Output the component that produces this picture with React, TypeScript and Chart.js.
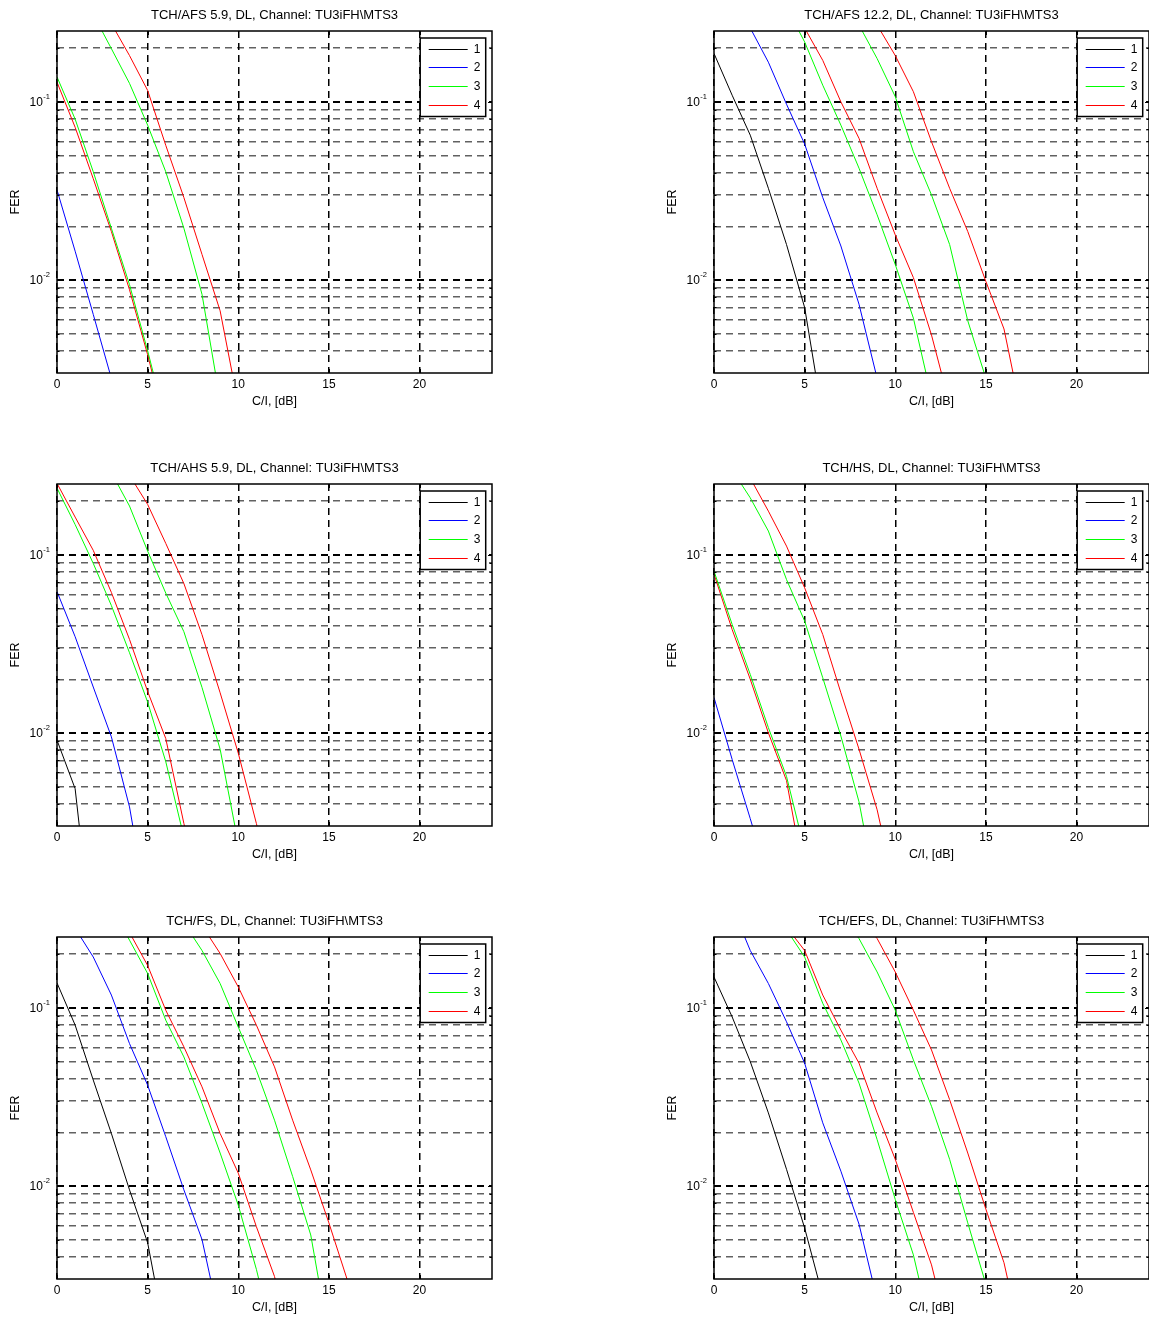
import React, { useEffect, useRef } from 'react';
import { Chart, registerables } from 'chart.js';

Chart.register(...registerables);

// ---------- data ----------
const CI_DB = [0, 1, 2, 3, 4, 5, 6, 7, 8, 9, 10, 11, 12, 13, 14, 15, 16, 17, 18, 19, 20, 21, 22, 23, 24];
const X_TICKS = [0, 5, 10, 15, 20];
const Y_GRID = [0.004, 0.005, 0.006, 0.007, 0.008, 0.009, 0.01, 0.02, 0.03, 0.04, 0.05, 0.06, 0.07, 0.08, 0.09, 0.1, 0.2];
const Y_LABEL_VALUES = [0.1, 0.01];
const Y_LABEL_BASE = ['10', '10'];
const Y_LABEL_EXP = ['-1', '-2'];
const SERIES_COLORS = ['#000000', '#0000ff', '#00ff00', '#ff0000'];
const X_TITLE = 'C/I, [dB]';
const Y_TITLE = 'FER';

const TITLES = [
  'TCH/AFS 5.9, DL, Channel: TU3iFH\\MTS3',
  'TCH/AFS 12.2, DL, Channel: TU3iFH\\MTS3',
  'TCH/AHS 5.9, DL, Channel: TU3iFH\\MTS3',
  'TCH/HS, DL, Channel: TU3iFH\\MTS3',
  'TCH/FS, DL, Channel: TU3iFH\\MTS3',
  'TCH/EFS, DL, Channel: TU3iFH\\MTS3',
];

type S = (number | null)[];
const _ = null;

// TCH/AFS 5.9
const AFS59_1: S = [];
const AFS59_2: S = [0.032, 0.0145, 0.0064, 0.0028];
const AFS59_3: S = [0.138, 0.08, 0.0405, 0.0195, 0.0094, 0.004, 0.0016];
const AFS59_4: S = [0.129, 0.072, 0.037, 0.0187, 0.0088, 0.0038, 0.0015];
const AFS59_3B: S = [_, _, 0.31, 0.199, 0.127, 0.074, 0.0405, 0.0195, 0.0083, 0.0021];
const AFS59_4B: S = [_, _, _, 0.275, 0.182, 0.116, 0.057, 0.029, 0.0139, 0.0067, 0.002];

// TCH/AFS 12.2
const AFS122_1: S = [0.187, 0.109, 0.065, 0.0327, 0.0158, 0.007, 0.0017];
const AFS122_2: S = [_, _, 0.26, 0.167, 0.097, 0.058, 0.029, 0.0155, 0.0073, 0.0028];
const AFS122_3: S = [_, _, _, _, 0.34, 0.217, 0.124, 0.074, 0.0424, 0.0232, 0.0122, 0.0061, 0.0022];
const AFS122_4: S = [_, _, _, _, _, 0.26, 0.171, 0.1, 0.0624, 0.0327, 0.0179, 0.0103, 0.0049, 0.002];
const AFS122_3B: S = [_, _, _, _, _, _, _, _, 0.27, 0.175, 0.107, 0.0525, 0.03, 0.0158, 0.0059, 0.0028];
const AFS122_4B: S = [_, _, _, _, _, _, _, _, _, 0.27, 0.182, 0.114, 0.0597, 0.0327, 0.0187, 0.0098, 0.0053, 0.0017];

// TCH/AHS 5.9
const AHS59_1: S = [0.0091, 0.00486, 0.0006];
const AHS59_2: S = [0.0622, 0.0347, 0.0181, 0.0095, 0.00384, 0.001];
const AHS59_3: S = [0.237, 0.148, 0.0895, 0.0519, 0.0282, 0.0149, 0.0069, 0.0026];
const AHS59_4: S = [0.252, 0.163, 0.106, 0.0615, 0.0335, 0.0171, 0.0093, 0.0031, 0.0011];
const AHS59_3B: S = [_, _, _, 0.29, 0.188, 0.105, 0.061, 0.037, 0.018, 0.0081, 0.0024];
const AHS59_4B: S = [_, _, _, _, 0.28, 0.192, 0.116, 0.069, 0.0356, 0.0168, 0.0077, 0.0031, 0.0012];

// TCH/HS
const HS_1: S = [];
const HS_2: S = [0.0158, 0.0071, 0.0033, 0.0015];
const HS_3: S = [0.081, 0.0407, 0.0213, 0.0107, 0.0057, 0.0022];
const HS_4: S = [0.078, 0.0381, 0.02, 0.01, 0.0054, 0.0015];
const HS_3B: S = [_, 0.3, 0.209, 0.136, 0.0727, 0.0425, 0.0204, 0.0096, 0.0041, 0.0012];
const HS_4B: S = [_, _, 0.27, 0.176, 0.112, 0.0653, 0.0357, 0.0168, 0.0081, 0.0037, 0.0013];

// TCH/FS
const FS_1: S = [0.138, 0.08, 0.0393, 0.0197, 0.0095, 0.0048, 0.0014];
const FS_2: S = [_, 0.28, 0.193, 0.118, 0.063, 0.0368, 0.0189, 0.0095, 0.005, 0.0017];
const FS_3: S = [_, _, _, 0.37, 0.24, 0.156, 0.0853, 0.053, 0.0291, 0.0153, 0.0078, 0.0034, 0.0013];
const FS_4: S = [_, _, _, _, 0.265, 0.173, 0.097, 0.0604, 0.036, 0.0197, 0.0118, 0.0059, 0.0031, 0.0012];
const FS_3B: S = [_, _, _, _, _, _, _, 0.3, 0.21, 0.137, 0.078, 0.0446, 0.0234, 0.0113, 0.0053, 0.0014];
const FS_4B: S = [_, _, _, _, _, _, _, _, 0.29, 0.202, 0.131, 0.08, 0.0466, 0.0234, 0.0123, 0.0062, 0.003, 0.0012];

// TCH/EFS
const EFS_1: S = [0.149, 0.089, 0.0499, 0.0257, 0.0124, 0.0058, 0.0024];
const EFS_2: S = [_, 0.37, 0.21, 0.137, 0.0835, 0.0489, 0.0226, 0.0121, 0.0061, 0.0023];
const EFS_3: S = [_, _, _, _, 0.275, 0.193, 0.106, 0.066, 0.0378, 0.0182, 0.0084, 0.0041, 0.0015];
const EFS_4: S = [_, _, _, _, 0.285, 0.21, 0.118, 0.075, 0.0489, 0.0257, 0.0141, 0.0071, 0.0036, 0.0014];
const EFS_3B: S = [_, _, _, _, _, _, _, 0.33, 0.245, 0.159, 0.097, 0.051, 0.028, 0.0141, 0.0062, 0.0028, 0.001];
const EFS_4B: S = [_, _, _, _, _, _, _, _, 0.32, 0.245, 0.159, 0.097, 0.058, 0.0305, 0.0153, 0.0074, 0.0037, 0.0013];

// series order in each panel -> color index / legend label
const SERIES_COLOR_INDEX = [0, 1, 2, 3, 2, 3];
const SERIES_LEGEND = ['1', '2', '3', '4', '', ''];

const PANEL_SERIES: S[][] = [
  [AFS59_1, AFS59_2, AFS59_3, AFS59_4, AFS59_3B, AFS59_4B],
  [AFS122_1, AFS122_2, AFS122_3, AFS122_4, AFS122_3B, AFS122_4B],
  [AHS59_1, AHS59_2, AHS59_3, AHS59_4, AHS59_3B, AHS59_4B],
  [HS_1, HS_2, HS_3, HS_4, HS_3B, HS_4B],
  [FS_1, FS_2, FS_3, FS_4, FS_3B, FS_4B],
  [EFS_1, EFS_2, EFS_3, EFS_4, EFS_3B, EFS_4B],
];

// ---------- layout / style ----------
const FONT = "'Liberation Sans', Arial, Helvetica, sans-serif";
const CANVAS_W = 549;
const CANVAS_H = 418;
const COL_LEFT = [0, 657];
const ROW_TOP = [0, 453, 906];

const decorPlugin = {
  id: 'matlabDecor',
  afterDraw(chart: any) {
    const { ctx, chartArea: a } = chart;
    const xs = chart.scales.x;
    const ys = chart.scales.y;
    ctx.save();

    // inward tick marks
    ctx.strokeStyle = '#000';
    ctx.lineWidth = 1;
    ctx.setLineDash([]);
    ctx.beginPath();
    X_TICKS.forEach((v) => {
      const px = Math.round(xs.getPixelForValue(v)) + 0.5;
      ctx.moveTo(px, a.bottom);
      ctx.lineTo(px, a.bottom - 4);
      ctx.moveTo(px, a.top);
      ctx.lineTo(px, a.top + 4);
    });
    Y_GRID.forEach((v) => {
      const py = Math.round(ys.getPixelForValue(v)) + 0.5;
      const len = Y_LABEL_VALUES.includes(v) ? 4 : 2.5;
      ctx.moveTo(a.left, py);
      ctx.lineTo(a.left + len, py);
      ctx.moveTo(a.right, py);
      ctx.lineTo(a.right - len, py);
    });
    ctx.stroke();

    // axes box
    ctx.lineWidth = 1.5;
    ctx.strokeRect(a.left, a.top, a.right - a.left, a.bottom - a.top);

    // y tick labels 10^n
    ctx.fillStyle = '#000';
    Y_LABEL_VALUES.forEach((v, i) => {
      const py = ys.getPixelForValue(v);
      ctx.font = `7.5px ${FONT}`;
      const ew = ctx.measureText(Y_LABEL_EXP[i]).width;
      const ex = a.left - 7 - ew;
      ctx.textAlign = 'left';
      ctx.textBaseline = 'middle';
      ctx.fillText(Y_LABEL_EXP[i], ex, py - 5);
      ctx.font = `12px ${FONT}`;
      ctx.textAlign = 'right';
      ctx.fillText(Y_LABEL_BASE[i], ex - 0.5, py + 1);
    });

    // legend box
    const items = chart.data.datasets.filter((d: any) => d.label !== '');
    const bw = 65.5;
    const bh = 78.5;
    const bx = a.right - 6.3 - bw;
    const by = a.top + 7;
    ctx.fillStyle = '#fff';
    ctx.fillRect(bx, by, bw, bh);
    ctx.strokeStyle = '#000';
    ctx.lineWidth = 1.5;
    ctx.strokeRect(bx, by, bw, bh);
    ctx.font = `12px ${FONT}`;
    ctx.textAlign = 'left';
    ctx.textBaseline = 'middle';
    items.forEach((d: any, i: number) => {
      const y = Math.round(by + 10.6 + i * 18.67) + 0.5;
      ctx.strokeStyle = d.borderColor;
      ctx.lineWidth = 1;
      ctx.beginPath();
      ctx.moveTo(bx + 8.5, y);
      ctx.lineTo(bx + 47.5, y);
      ctx.stroke();
      ctx.fillStyle = '#000';
      ctx.fillText(d.label, bx + 53.5, y + 0.5);
    });
    ctx.restore();
  },
};

function buildDatasets(series: S[]) {
  return series.map((arr, si) => ({
    label: SERIES_LEGEND[si],
    data: arr
      .map((v, i) => (v == null ? null : { x: CI_DB[i], y: v }))
      .filter((p) => p !== null),
    borderColor: SERIES_COLORS[SERIES_COLOR_INDEX[si]],
    backgroundColor: SERIES_COLORS[SERIES_COLOR_INDEX[si]],
    borderWidth: 1,
    pointRadius: 0,
    tension: 0,
    fill: false,
    clip: 0,
  }));
}

const isMajor = (c: any) => !!(c.tick && Y_LABEL_VALUES.includes(c.tick.value));

function Panel({ index }: { index: number }) {
  const ref = useRef<HTMLCanvasElement>(null);
  useEffect(() => {
    const chart = new Chart(ref.current as HTMLCanvasElement, {
      type: 'line',
      data: { datasets: buildDatasets(PANEL_SERIES[index]) as any },
      options: {
        responsive: false,
        animation: false,
        devicePixelRatio: 1,
        events: [],
        layout: { padding: { left: 0, right: 57, top: 0, bottom: 0 } },
        plugins: {
          legend: { display: false },
          tooltip: { enabled: false },
          title: {
            display: true,
            fullSize: false,
            text: TITLES[index],
            color: '#000',
            font: { family: FONT, size: 13, weight: 'normal', lineHeight: 1.2 },
            padding: { top: 7.5, bottom: 7.9 },
          },
        },
        scales: {
          x: {
            type: 'linear',
            min: 0,
            max: 24,
            afterBuildTicks: (s: any) => {
              s.ticks = X_TICKS.map((v) => ({ value: v }));
            },
            afterFit: (s: any) => {
              s.height = 45;
            },
            grid: { color: '#000', lineWidth: 1.5, drawTicks: false },
            border: { display: false, dash: [7, 5] },
            ticks: {
              color: '#000',
              font: { family: FONT, size: 12 },
              padding: 4,
              maxRotation: 0,
              autoSkip: false,
              callback: (v: any) => String(v),
            },
            title: {
              display: true,
              text: X_TITLE,
              color: '#000',
              font: { family: FONT, size: 12.5 },
              padding: { top: 0, bottom: 8.8 },
            },
          },
          y: {
            type: 'logarithmic',
            min: 0.003,
            max: 0.25,
            afterBuildTicks: (s: any) => {
              s.ticks = Y_GRID.map((v) => ({ value: v }));
            },
            afterFit: (s: any) => {
              s.width = 57;
            },
            grid: {
              color: (c: any) => (isMajor(c) ? '#000' : 'rgba(0,0,0,0.62)'),
              lineWidth: (c: any) => (isMajor(c) ? 2 : 1.6),
              drawTicks: false,
            },
            border: { display: false, dash: [7, 5] },
            ticks: { display: false },
            title: {
              display: true,
              text: Y_TITLE,
              color: '#000',
              font: { family: FONT, size: 12.5 },
              padding: { top: 8.2, bottom: 0 },
            },
          },
        },
      } as any,
      plugins: [decorPlugin],
    });
    return () => chart.destroy();
  }, [index]);
  const col = index % 2;
  const row = Math.floor(index / 2);
  return (
    <canvas
      ref={ref}
      width={CANVAS_W}
      height={CANVAS_H}
      style={{ position: 'absolute', left: COL_LEFT[col], top: ROW_TOP[row], width: CANVAS_W, height: CANVAS_H }}
    />
  );
}

export default function App() {
  return (
    <div
      style={{
        position: 'fixed',
        left: 0,
        top: 0,
        width: 1149,
        height: 1320,
        overflow: 'hidden',
        background: '#fff',
      }}
    >
      {TITLES.map((t, i) => (
        <Panel key={t} index={i} />
      ))}
    </div>
  );
}
